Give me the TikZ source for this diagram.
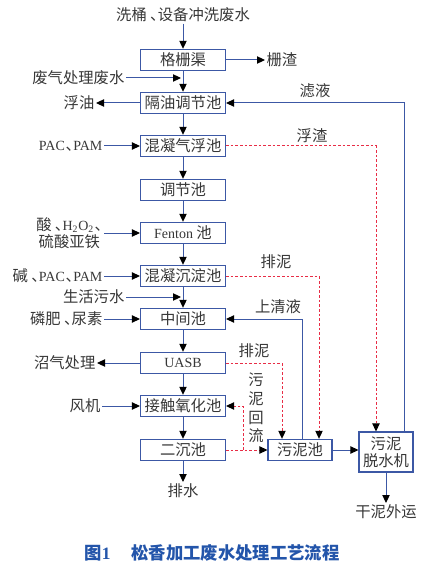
\documentclass[tikz,border=0pt]{standalone}
\usepackage{fontspec}
\setmainfont{Noto Sans CJK SC}
\newfontfamily\lat{Liberation Serif}
\usetikzlibrary{arrows.meta}
\definecolor{lineblue}{RGB}{60,88,165}
\definecolor{sludgered}{RGB}{232,45,70}
\definecolor{capblue}{RGB}{35,85,170}
\definecolor{txtgray}{RGB}{55,55,55}
\newcommand{\dun}{\kern0.05em、\kern-0.5em}
\newcommand{\latn}[1]{{\lat\fontsize{10.5}{12}\selectfont #1}}
\tikzset{
	tank/.style={draw=lineblue, line width=0.8pt, minimum width=63.75pt, minimum height=16pt, inner sep=0pt, text=txtgray},
	lbl/.style={text=txtgray, inner sep=1pt, align=center},
	flow/.style={draw=lineblue, line width=0.75pt, -{Triangle[length=6pt,width=5.5pt,color=black]}},
	sludge/.style={draw=sludgered, line width=0.75pt, dash pattern=on 2pt off 1.5pt, -{Triangle[length=6pt,width=5.5pt,color=black]}}
}

\begin{document}
\begin{tikzpicture}[x=0.75pt, y=-0.75pt, font=\fontsize{11.5}{14}\selectfont]
	\useasboundingbox (0,0) rectangle (437,570);
	%main treatment line
	\node[lbl, anchor=center] (src) at (183,15) {洗桶\,\dun 设备冲洗废水};
	\node[tank] (gs) at (183,60) {格栅渠};
	\node[tank] (gy) at (183,103) {隔油调节池};
	\node[tank] (hq) at (183,146) {混凝气浮池};
	\node[tank] (tj) at (183,190) {调节池};
	\node[tank] (ft) at (183,233) {\latn{Fenton} 池};
	\node[tank] (hc) at (183,276) {混凝沉淀池};
	\node[tank] (zj) at (183,319) {中间池};
	\node[tank] (ua) at (183,363) {\latn{UASB}};
	\node[tank] (jc) at (183,406) {接触氧化池};
	\node[tank] (ec) at (183,450) {二沉池};
	\node[lbl, anchor=north] (ps) at (183,482) {排水};
	\draw[flow] (src) -- (gs);
	\draw[flow] (gs) -- (gy);
	\draw[flow] (gy) -- (hq);
	\draw[flow] (hq) -- (tj);
	\draw[flow] (tj) -- (ft);
	\draw[flow] (ft) -- (hc);
	\draw[flow] (hc) -- (zj);
	\draw[flow] (zj) -- (ua);
	\draw[flow] (ua) -- (jc);
	\draw[flow] (jc) -- (ec);
	\draw[flow] (ec) -- (ps);

	%inputs and outputs on the left and right
	\node[lbl, anchor=west] (zz) at (265,60) {栅渣};
	\draw[flow] (gs) -- (zz);
	\node[lbl, anchor=east] (fq) at (126,78) {废气处理废水};
	\coordinate (j1) at (181,78);
	\draw[flow] (fq) -- (j1);
	\node[lbl, anchor=east] (fy) at (96,103) {浮油};
	\draw[flow] (gy) -- (fy);
	\node[lbl, anchor=east] (pac) at (104,146) {\latn{PAC}\dun\latn{PAM}};
	\draw[flow] (pac) -- (hq);
	\node[lbl, anchor=east, font=\fontsize{11.5}{13}\selectfont] (fe) at (104,233) {酸\,\dun\latn{H\textsubscript{2}O\textsubscript{2}}\dun\\硫酸亚铁};
	\draw[flow] (fe) -- (ft);
	\node[lbl, anchor=east] (jian) at (104,276) {碱\,\dun\latn{PAC}\dun\latn{PAM}};
	\draw[flow] (jian) -- (hc);
	\node[lbl, anchor=east] (sh) at (126,297) {生活污水};
	\coordinate (j2) at (181,297);
	\draw[flow] (sh) -- (j2);
	\node[lbl, anchor=east] (lf) at (104,319) {磷肥\,\dun 尿素};
	\draw[flow] (lf) -- (zj);
	\node[lbl, anchor=east] (zq) at (97,363) {沼气处理};
	\draw[flow] (ua) -- (zq);
	\node[lbl, anchor=east] (fj) at (102,406) {风机};
	\draw[flow] (fj) -- (jc);

	%sludge handling
	\node[tank, minimum width=48pt] (wn) at (300,450) {污泥池};
	\node[tank, minimum width=40.5pt, minimum height=30pt, align=center, font=\fontsize{11.5}{13}\selectfont] (ts) at (386,452) {污泥\\脱水机};
	\node[lbl, anchor=north] (gn) at (386,503) {干泥外运};
	\draw[flow] (wn.east) -- (wn.east -| ts.west);
	\draw[flow] (ts) -- (gn);
	\coordinate (xlv) at (404,0);
	\coordinate (xfz) at (376,0);
	\coordinate (xpn) at (319,0);
	\coordinate (xsq) at (302,0);
	\coordinate (xpu) at (282,0);
	\coordinate (xhl) at (243,0);
	\draw[flow] (ts.north -| xlv) |- (gy.east);
	\node[lbl] (lv) at (315,91) {滤液};
	\draw[sludge] (hq.east) -| (ts.north -| xfz);
	\node[lbl] (fz) at (312,136) {浮渣};
	\draw[sludge] (hc.east) -| (wn.north -| xpn);
	\node[lbl] (pn) at (276,262) {排泥};
	\draw[flow] (wn.north -| xsq) |- (zj.east);
	\node[lbl] (sq) at (278,307) {上清液};
	\draw[sludge] (ua.east) -| (wn.north -| xpu);
	\node[lbl] (pu) at (254,351) {排泥};
	\draw[sludge] (ec.east) -- (wn.west);
	\draw[sludge] (ec.east -| xhl) |- (jc.east);
	\node[lbl, font=\fontsize{11.5}{14}\selectfont] (hl) at (256,408) {污\\泥\\回\\流};

	%caption
	\node[text=capblue, font=\fontsize{13}{15}\selectfont\bfseries] (cap) at (212,553) {图{\lat\bfseries 1}\hspace{1.2em}松香加工废水处理工艺流程};
\end{tikzpicture}
\end{document}
